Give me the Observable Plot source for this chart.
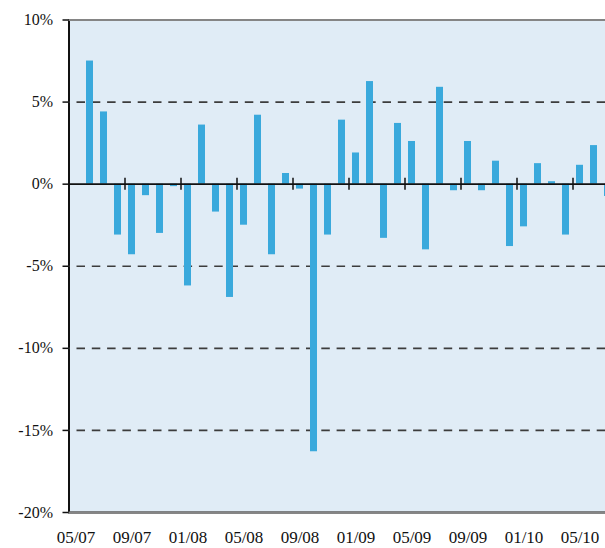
<!DOCTYPE html>
<html>
<head>
<meta charset="utf-8">
<script src="https://cdn.jsdelivr.net/npm/d3@7"></script>
<script src="https://cdn.jsdelivr.net/npm/@observablehq/plot@0.6"></script>
<style>
  html, body { margin: 0; padding: 0; background: #ffffff; overflow: hidden; }
  #chart { width: 605px; height: 548px; overflow: hidden; }
  #chart svg { max-width: none !important; display: block; }
</style>
</head>
<body>
<div id="chart"></div>
<script>
// Monthly categories (MM/YY)
const months = [
  "05/07","06/07","07/07","08/07","09/07","10/07","11/07","12/07",
  "01/08","02/08","03/08","04/08","05/08","06/08","07/08","08/08","09/08","10/08","11/08","12/08",
  "01/09","02/09","03/09","04/09","05/09","06/09","07/09","08/09","09/09","10/09","11/09","12/09",
  "01/10","02/10","03/10","04/10","05/10","06/10","07/10"
];
// Monthly returns in percent (first month has no bar)
const returns = [
  null, 7.5, 4.4, -3.1, -4.3, -0.7, -3.0, -0.15,
  -6.2, 3.6, -1.7, -6.9, -2.5, 4.2, -4.3, 0.65, -0.3, -16.3, -3.1, 3.9,
  1.9, 6.25, -3.3, 3.7, 2.6, -4.0, 5.9, -0.4, 2.6, -0.4, 1.4, -3.8,
  -2.6, 1.25, 0.15, -3.1, 1.15, 2.35, -0.75
];
// Axis labels
const labelMonths = ["05/07","09/07","01/08","05/08","09/08","01/09","05/09","09/09","01/10","05/10"];
const zeroTickMonths = ["09/07","01/08","05/08","09/08","01/09","05/09","09/09","01/10","05/10"];
const yTicks = [10, 5, 0, -5, -10, -15, -20];
const gridValues = [5, -5, -10, -15];
const borderValues = [10, -20];

const data = months.map((m, i) => ({month: m, value: returns[i]}));

const chart = Plot.plot({
  width: 620,
  height: 548,
  marginLeft: 68.5,
  marginRight: 5.5,
  marginTop: 19.5,
  marginBottom: 36,
  style: {fontFamily: "'Liberation Serif', 'DejaVu Serif', serif", fontSize: "16px", color: "#111", background: "#ffffff", overflow: "visible"},
  x: {type: "band", domain: months, paddingInner: 0.5, paddingOuter: 0.25, align: 0.5, axis: null, label: null},
  y: {domain: [-20, 10], axis: null, label: null},
  marks: [
    Plot.frame({fill: "#e0ecf6", stroke: "#111", strokeWidth: 2}),
    Plot.ruleY(gridValues, {stroke: "#3c3c3c", strokeWidth: 1.6, strokeDasharray: "8.5,6.8", strokeDashoffset: -8}),
    Plot.barY(data.filter(d => d.value != null), {x: "month", y: "value", fill: "#3aa9dc"}),
    Plot.ruleY([0], {stroke: "#111", strokeWidth: 1.6}),
    Plot.ruleX(zeroTickMonths, {x: d => d, y1: 0, y2: 0, insetTop: -6, insetBottom: -6, dx: -7, stroke: "#111", strokeWidth: 1.5}),
    Plot.ruleY(borderValues, {stroke: "#858585", strokeWidth: 2}),
    Plot.axisY({ticks: yTicks, tickFormat: d => (d < 0 ? "-" : "") + Math.abs(d) + "%", tickSize: 6, tickPadding: 10, fontSize: 16, stroke: "#111", strokeWidth: 1.5, label: null}),
    Plot.axisX({ticks: labelMonths, tickSize: 0, tickPadding: 18, fontSize: 17, label: null})
  ]
});
document.getElementById("chart").appendChild(chart);
</script>
</body>
</html>
